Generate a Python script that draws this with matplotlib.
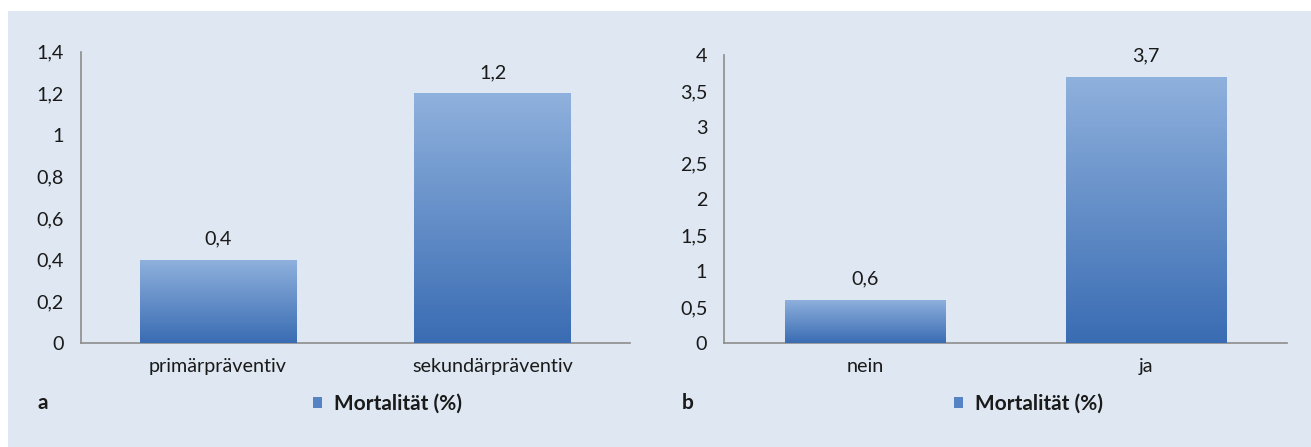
import numpy as np
import matplotlib.pyplot as plt
from matplotlib.patches import Rectangle
from matplotlib.colors import LinearSegmentedColormap

plt.rcParams['font.family'] = ['Lato', 'DejaVu Sans']

cats_a = ['primärpräventiv', 'sekundärpräventiv']
vals_a = [0.4, 1.2]
ticks_a = [0, 0.2, 0.4, 0.6, 0.8, 1.0, 1.2, 1.4]

cats_b = ['nein', 'ja']
vals_b = [0.6, 3.7]
ticks_b = [0, 0.5, 1, 1.5, 2, 2.5, 3, 3.5, 4]

series_name = 'Mortalität (%)'

W, H = 1311, 447
BG = '#dfe8f2'
FS = 14.2
bar_cmap = LinearSegmentedColormap.from_list('bar', ['#3a6cb3', '#8fb1dd'])


def fmt(v):
    return ('%g' % v).replace('.', ',')


def draw_panel(fig, rect, cats, vals, ticks, letter, letter_x, legend_x):
    ax = fig.add_axes(rect)
    ax.set_facecolor('none')
    x = np.arange(len(cats))
    bars = ax.bar(x, vals, width=0.57, color='#5583c4', zorder=2, label=series_name)

    # vertical gradient inside each bar
    grad = np.linspace(0, 1, 256).reshape(-1, 1)
    for b in bars:
        x0, y0 = b.get_xy()
        im = ax.imshow(grad, extent=(x0, x0 + b.get_width(), y0, y0 + b.get_height()),
                       origin='lower', cmap=bar_cmap, aspect='auto', zorder=3)
        im.set_clip_path(b)

    for xi, v in zip(x, vals):
        ax.annotate(fmt(v), (xi, v), xytext=(0, 15), textcoords='offset points',
                    ha='center', va='center', fontsize=FS, color='#1a1a1a')

    ax.set_xlim(-0.5, 1.5)
    ax.set_ylim(0, ticks[-1])
    ax.set_yticks(ticks)
    ax.set_yticklabels([fmt(t) for t in ticks])
    ax.set_xticks(x)
    ax.set_xticklabels(cats)
    ax.tick_params(axis='y', length=0, pad=12, labelsize=FS, labelcolor='#1a1a1a')
    ax.tick_params(axis='x', length=0, pad=11, labelsize=FS, labelcolor='#1a1a1a')
    for s in ['top', 'right']:
        ax.spines[s].set_visible(False)
    for s in ['left', 'bottom']:
        ax.spines[s].set_color('#8c8c8c')
        ax.spines[s].set_linewidth(1.2)

    fig.text(letter_x / W, 1 - 403 / H, letter, fontsize=15, fontweight='bold',
             ha='center', va='center', color='#1a1a1a')
    ax.legend(loc='center left', bbox_to_anchor=(legend_x / W, 1 - 404 / H),
              bbox_transform=fig.transFigure, frameon=False,
              handlelength=0.45, handleheight=0.45, handletextpad=0.55,
              borderpad=0, borderaxespad=0,
              prop={'size': 15, 'weight': 'bold'}, labelcolor='#1a1a1a')
    return ax


fig = plt.figure(figsize=(W / 100, H / 100), dpi=100)
fig.patches.append(Rectangle((8 / W, 0), 1, 1 - 11 / H, transform=fig.transFigure,
                             facecolor=BG, edgecolor='none', zorder=-10))

draw_panel(fig, [80.5 / W, 1 - 343 / H, (630 - 80.5) / W, (343 - 51.7) / H],
           cats_a, vals_a, ticks_a, 'a', 43, 313)
draw_panel(fig, [724 / W, 1 - 343 / H, (1287 - 724) / W, (343 - 55) / H],
           cats_b, vals_b, ticks_b, 'b', 688, 954)

fig.savefig('out.png', dpi=100)
